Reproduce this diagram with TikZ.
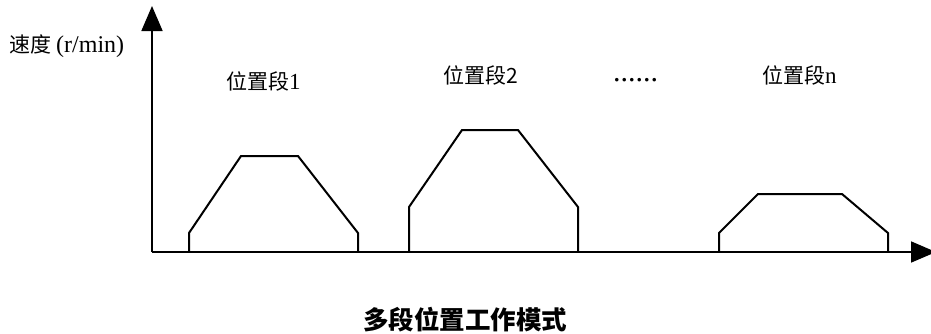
\documentclass[tikz,border=0pt]{standalone}
\usepackage{fontspec}
\setmainfont{Liberation Serif}
\newfontfamily\cjk{Noto Sans CJK SC}
\usetikzlibrary{arrows.meta}
\newcommand{\profile}[6]{\draw[seg] ( #1 , 252 ) -- ( #1 , #5 ) -- ( #2 , #6 ) -- ( #3 , #6 ) -- ( #4 , #5 ) -- ( #4 , 252 );}

\begin{document}
\begin{tikzpicture}[x=1pt,y=-1pt,
    seg/.style={line width=2pt, line join=miter},
    axis/.style={line width=1.8pt, -{Triangle[length=25pt,width=21pt]}},
    lbl/.style={font=\fontsize{21}{24}\selectfont\cjk, inner sep=0pt}]
    \useasboundingbox (0,0) rectangle (931,333);
    \coordinate (origin) at (152,252);
    \coordinate (ytip) at (152,6);
    \coordinate (xtip) at (936,252);
    \draw[axis] (origin) -- (ytip);
    \draw[axis] (origin) -- (xtip);
    \profile{189}{241}{298}{358}{233}{156}
    \profile{409}{462}{518}{578}{207}{130}
    \profile{719}{758}{842}{888}{233}{194}
    \node[lbl, anchor=base west] (speed) at (9,52) {速度\kern5pt{\fontsize{24}{24}\selectfont\rmfamily(r/min)}};
    \node[lbl, anchor=base west] (pos1) at (226,89) {位置段{\fontsize{23}{24}\selectfont\rmfamily 1}};
    \node[lbl, anchor=base west] (pos2) at (443,83) {位置段2};
    \node[lbl, anchor=base west] (dots) at (613,81) {\fontsize{30}{30}\selectfont\rmfamily......};
    \node[lbl, anchor=base west] (posn) at (762,83) {位置段{\fontsize{23}{24}\selectfont\rmfamily n}};
    \node[font=\fontsize{25.5}{28}\selectfont\cjk\bfseries, inner sep=0pt] (title) at (465,320) {多段位置工作模式};
\end{tikzpicture}
\end{document}
